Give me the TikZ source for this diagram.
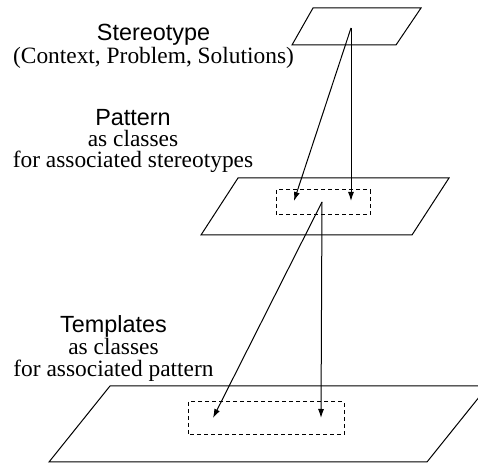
\documentclass[tikz,border=0pt]{standalone}
\usepackage{fontspec}
\setmainfont{Liberation Serif}
\newfontfamily\headfont{Liberation Sans}
\usetikzlibrary{arrows.meta}
\begin{document}
\begin{tikzpicture}[x=0.5pt,y=-0.5pt,
  plane/.style={draw,line width=0.5pt,line join=miter},
  frame/.style={draw,line width=0.5pt,dash pattern=on 2pt off 1.5pt},
  link/.style={draw,line width=0.5pt,-{Latex[length=4.5pt,width=3pt]}},
  head/.style={anchor=base,inner sep=0pt,font=\headfont\fontsize{11.7}{14}\selectfont},
  sub/.style={anchor=base,inner sep=0pt,font=\fontsize{11.7}{14}\selectfont}]
\useasboundingbox (0,0) rectangle (478,464);

% three planes, top to bottom
\draw[plane] (313,8) -- (421,8) -- (396,45) -- (292,45) -- cycle;
\draw[plane] (238,178) -- (449,178) -- (412,235) -- (201,235) -- cycle;
\draw[plane] (110,386) -- (488,386) -- (427,462) -- (49,462) -- cycle;

% dashed regions on the lower planes
\draw[frame] (276,190) rectangle (370,215);
\draw[frame] (188,402) rectangle (344,435);

% points the mappings start from and end at
\coordinate (s0) at (351,28);
\coordinate (p1) at (294,201);
\coordinate (p2) at (351,201);
\coordinate (s1) at (322,202);
\coordinate (t1) at (213,418);
\coordinate (t2) at (321,418);

\draw[link] (s0) -- (p1);
\draw[link] (s0) -- (p2);
\draw[link] (s1) -- (t1);
\draw[link] (s1) -- (t2);

% labels
\node[head] (stereo) at (153.5,41) {Stereotype};
\node[sub]  (stereo2) at (153.5,64) {(Context, Problem, Solutions)};

\node[head] (pat) at (133,125.5) {Pattern};
\node[sub]  (pat2) at (133,146.5) {as classes};
\node[sub]  (pat3) at (133,167.5) {for associated stereotypes};

\node[head] (tpl) at (113.5,333) {Templates};
\node[sub]  (tpl2) at (113.5,355) {as classes};
\node[sub]  (tpl3) at (113.5,377) {for associated pattern};
\end{tikzpicture}
\end{document}
